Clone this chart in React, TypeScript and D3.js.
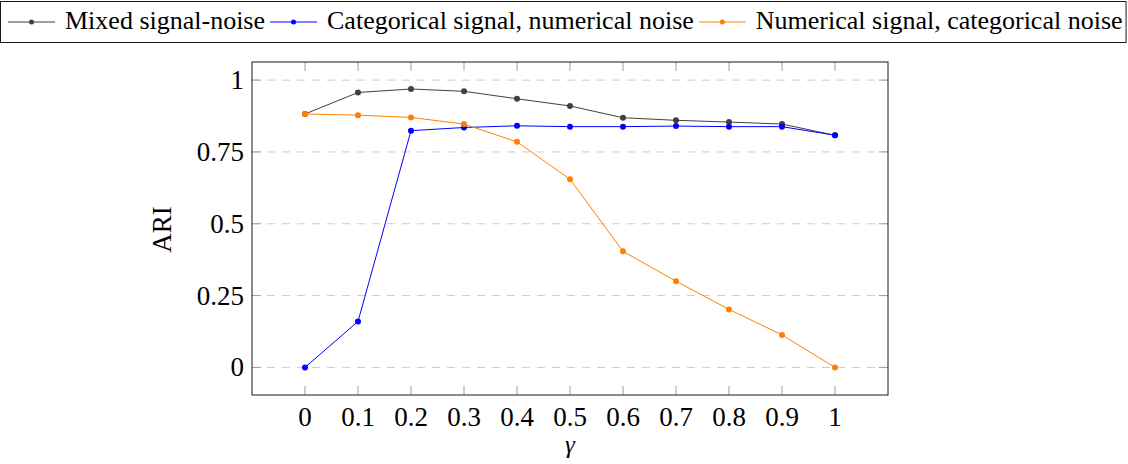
import React, { useEffect, useRef } from 'react';
import * as d3 from 'd3';

const gammas = [0, 0.1, 0.2, 0.3, 0.4, 0.5, 0.6, 0.7, 0.8, 0.9, 1];
const mixedNoise = [0.882, 0.957, 0.969, 0.961, 0.935, 0.91, 0.869, 0.86, 0.854, 0.847, 0.808];
const catSignalNumNoise = [0, 0.16, 0.824, 0.835, 0.841, 0.838, 0.838, 0.84, 0.838, 0.838, 0.808];
const numSignalCatNoise = [0.882, 0.878, 0.87, 0.847, 0.785, 0.655, 0.404, 0.3, 0.202, 0.113, 0];
const xTickLabels = ['0', '0.1', '0.2', '0.3', '0.4', '0.5', '0.6', '0.7', '0.8', '0.9', '1'];
const yTicks = [0, 0.25, 0.5, 0.75, 1];
const yTickLabels = ['0', '0.25', '0.5', '0.75', '1'];
const seriesNames = [
  'Mixed signal-noise',
  'Categorical signal, numerical noise',
  'Numerical signal, categorical noise',
];
const seriesColors = ['#404040', '#0000ff', '#ff8000'];

const width = 1128;
const height = 464;
const font = "'Liberation Serif', 'DejaVu Serif', serif";

export default function App() {
  const ref = useRef<SVGSVGElement>(null);

  useEffect(() => {
    const svg = d3.select(ref.current);
    svg.selectAll('*').remove();

    const left = 252;
    const right = 888;
    const top = 62;
    const bottom = 395;

    const x = d3.scaleLinear().domain([-0.1, 1.1]).range([left, right]);
    const y = d3.scaleLinear().domain([-0.096, 1.063]).range([bottom, top]);

    // grid
    svg
      .selectAll('line.grid')
      .data(yTicks)
      .enter()
      .append('line')
      .attr('class', 'grid')
      .attr('x1', left)
      .attr('x2', right)
      .attr('y1', d => y(d))
      .attr('y2', d => y(d))
      .attr('stroke', '#cccccc')
      .attr('stroke-width', 1)
      .attr('stroke-dasharray', '8,7');

    // ticks inside the box
    const tickLen = 9;
    const tickColor = '#a0a0a0';
    gammas.forEach(g => {
      svg.append('line').attr('x1', x(g)).attr('x2', x(g)).attr('y1', bottom).attr('y2', bottom - tickLen)
        .attr('stroke', tickColor);
      svg.append('line').attr('x1', x(g)).attr('x2', x(g)).attr('y1', top).attr('y2', top + tickLen)
        .attr('stroke', tickColor);
    });
    yTicks.forEach(t => {
      svg.append('line').attr('x1', left).attr('x2', left + tickLen).attr('y1', y(t)).attr('y2', y(t))
        .attr('stroke', tickColor);
      svg.append('line').attr('x1', right).attr('x2', right - tickLen).attr('y1', y(t)).attr('y2', y(t))
        .attr('stroke', tickColor);
    });

    // series
    const all = [mixedNoise, catSignalNumNoise, numSignalCatNoise];
    const line = d3
      .line<number>()
      .x((_, i) => x(gammas[i]))
      .y(d => y(d));
    all.forEach((values, s) => {
      svg.append('path').datum(values).attr('d', line).attr('fill', 'none')
        .attr('stroke', seriesColors[s]).attr('stroke-width', 1);
      svg.selectAll(`circle.s${s}`).data(values).enter().append('circle')
        .attr('class', `s${s}`)
        .attr('cx', (_, i) => x(gammas[i]))
        .attr('cy', d => y(d))
        .attr('r', 3)
        .attr('fill', seriesColors[s]);
    });

    // frame
    svg.append('rect').attr('x', left).attr('y', top).attr('width', right - left).attr('height', bottom - top)
      .attr('fill', 'none').attr('stroke', '#1a1a1a').attr('stroke-width', 1);

    // tick labels
    svg.selectAll('text.xt').data(xTickLabels).enter().append('text')
      .attr('class', 'xt')
      .attr('x', (_, i) => x(gammas[i]))
      .attr('y', 426)
      .attr('text-anchor', 'middle')
      .attr('font-family', font)
      .attr('font-size', 27)
      .text(d => d);
    svg.selectAll('text.yt').data(yTickLabels).enter().append('text')
      .attr('class', 'yt')
      .attr('x', 244)
      .attr('y', (_, i) => y(yTicks[i]) + 9)
      .attr('text-anchor', 'end')
      .attr('font-family', font)
      .attr('font-size', 27)
      .text(d => d);

    // axis labels
    svg.append('text').attr('x', 570).attr('y', 453).attr('text-anchor', 'middle')
      .attr('font-family', font).attr('font-style', 'italic').attr('font-size', 25).text('γ');
    svg.append('text').attr('transform', `translate(171,${(top + bottom) / 2 + 1}) rotate(-90)`)
      .attr('text-anchor', 'middle').attr('font-family', font).attr('font-size', 27).text('ARI');

    // legend
    const legend = svg.append('g');
    let cx = 8;
    const ly = 22;
    seriesNames.forEach((name, s) => {
      legend.append('line').attr('x1', cx).attr('x2', cx + 47).attr('y1', ly).attr('y2', ly)
        .attr('stroke', seriesColors[s]).attr('stroke-width', 1);
      legend.append('circle').attr('cx', cx + 23.5).attr('cy', ly).attr('r', 2.5).attr('fill', seriesColors[s]);
      const t = legend.append('text').attr('x', cx + 57).attr('y', ly + 7)
        .attr('font-family', font).attr('font-size', 26).attr('fill', '#000').text(name);
      const w = (t.node() as SVGTextElement).getComputedTextLength();
      cx += 57 + w + 5;
    });
    legend.insert('rect', ':first-child').attr('x', 0.5).attr('y', 1.5).attr('width', Math.min(cx - 2, 1126))
      .attr('height', 41)
      .attr('fill', 'white').attr('stroke', '#1a1a1a').attr('stroke-width', 1);
  }, []);

  return (
    <svg
      ref={ref}
      width={width}
      height={height}
      style={{ position: 'absolute', left: 0, top: 0, background: 'white' }}
    />
  );
}
